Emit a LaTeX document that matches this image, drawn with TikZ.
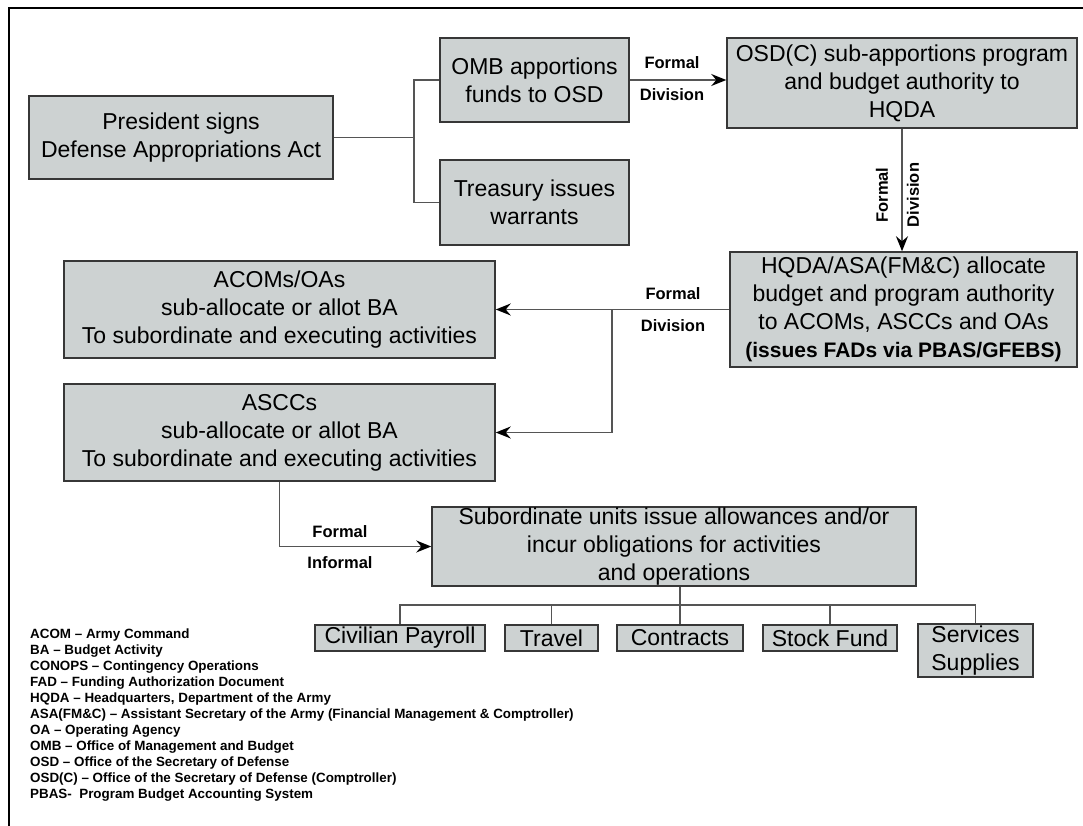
\documentclass[tikz,border=0pt]{standalone}
\usepackage{fontspec}
\setmainfont{Liberation Sans}
\usetikzlibrary{arrows.meta}
\definecolor{boxfill}{RGB}{205,210,210}
\definecolor{boxline}{RGB}{55,55,55}
\definecolor{wire}{RGB}{85,85,85}
\tikzset{
  box/.style={draw=boxline,fill=boxfill,line width=1.5pt,inner sep=0pt,align=center,
    font=\fontsize{23}{28}\selectfont},
  wireline/.style={draw=wire,line width=1.6pt},
  lbl/.style={font=\bfseries\fontsize{16.5}{18}\selectfont,inner sep=0pt}
}
\begin{document}
\begin{tikzpicture}[x=1pt,y=-1pt,>={Stealth[length=15pt,width=12pt,inset=5pt,color=black]}]
            \useasboundingbox (0,0) rectangle (1083,826);
            \draw[line width=2.5pt] (9,826) -- (9,8) -- (1083,8);
            % boxes
            \draw (181,137.5) node[box,minimum width=304,minimum height=83] (pres) {President signs\\Defense Appropriations Act};
            \draw (534.5,80) node[box,minimum width=189,minimum height=84] (omb) {OMB apportions\\funds to OSD};
            \draw (534.5,202.5) node[box,minimum width=189,minimum height=85] (treas) {Treasury issues\\warrants};
            \draw (902,83) node[box,minimum width=350,minimum height=90] (osdc) {OSD(C) sub-apportions program\\and budget authority to\\HQDA};
            \draw (903.5,309.5) node[box,minimum width=347,minimum height=115] (hqda) {HQDA/ASA(FM\&C) allocate\\budget and program authority\\to ACOMs, ASCCs and OAs\\{\bfseries\fontsize{21}{28}\selectfont (issues FADs via PBAS/GFEBS)}};
            \draw (279.5,309.5) node[box,minimum width=431,minimum height=97] (acoms) {ACOMs/OAs\\sub-allocate or allot BA\\To subordinate and executing activities};
            \draw (279.5,432.5) node[box,minimum width=431,minimum height=97] (asccs) {ASCCs\\sub-allocate or allot BA\\To subordinate and executing activities};
            \draw (674,546.5) node[box,minimum width=484,minimum height=79] (sub) {Subordinate units issue allowances and/or\\incur obligations for activities\\and operations};
            \draw (400,638) node[box,minimum width=170,minimum height=26] (civ) {Civilian Payroll};
            \draw (551.5,638) node[box,minimum width=93,minimum height=26] (travel) {Travel};
            \draw (680,638) node[box,minimum width=126,minimum height=26] (contracts) {Contracts};
            \draw (830,638) node[box,minimum width=134,minimum height=26] (stock) {Stock Fund};
            \draw (975.5,650.5) node[box,minimum width=115,minimum height=53] (serv) {Services\\Supplies};
            % connectors
            \coordinate (split) at (414,137.5);
            \coordinate (fork) at (612,309.5);
            \coordinate (busl) at (400,605);
            \coordinate (busr) at (975.5,605);
            \draw[wireline] (pres.east) -- (split);
            \draw[wireline] (omb.west) -| (split) |- (treas.west);
            \draw[wireline,->] (omb.east) -- (omb.east -| osdc.west);
            \draw[wireline,->] (osdc.south) -- (osdc.south |- hqda.north);
            \draw[wireline,->] (hqda.west) -- (acoms.east);
            \draw[wireline,->] (fork) |- (asccs.east);
            \draw[wireline,->] (asccs.south) |- (sub.west);
            \draw[wireline] (contracts.north |- sub.south) -- (contracts.north);
            \draw[wireline] (civ.north) -- (busl) -- (busr) -- (serv.north);
            \draw[wireline] (travel.north) -- (travel.north |- busl);
            \draw[wireline] (stock.north) -- (stock.north |- busl);
            % labels
            \draw (672,63) node[lbl] (f1) {Formal};
            \draw (672,95) node[lbl] (d1) {Division};
            \draw (882,195) node[lbl,rotate=90] (f2) {Formal};
            \draw (913,195) node[lbl,rotate=90] (d2) {Division};
            \draw (673,294) node[lbl] (f3) {Formal};
            \draw (673,326) node[lbl] (d3) {Division};
            \draw (340,532) node[lbl] (f4) {Formal};
            \draw (340,563) node[lbl] (i4) {Informal};
            % legend
            \draw (30,629) node[anchor=north west,align=left,inner sep=0pt,font=\bfseries\fontsize{13.4}{16}\selectfont] (legend)
              {ACOM -- Army Command\\
               BA -- Budget Activity\\
               CONOPS -- Contingency Operations\\
               FAD -- Funding Authorization Document\\
               HQDA -- Headquarters, Department of the Army\\
               ASA(FM\&C) -- Assistant Secretary of the Army (Financial Management \& Comptroller)\\
               OA -- Operating Agency\\
               OMB -- Office of Management and Budget\\
               OSD -- Office of the Secretary of Defense\\
               OSD(C) -- Office of the Secretary of Defense (Comptroller)\\
               PBAS-\ \ Program Budget Accounting System};
         \end{tikzpicture}
\end{document}
